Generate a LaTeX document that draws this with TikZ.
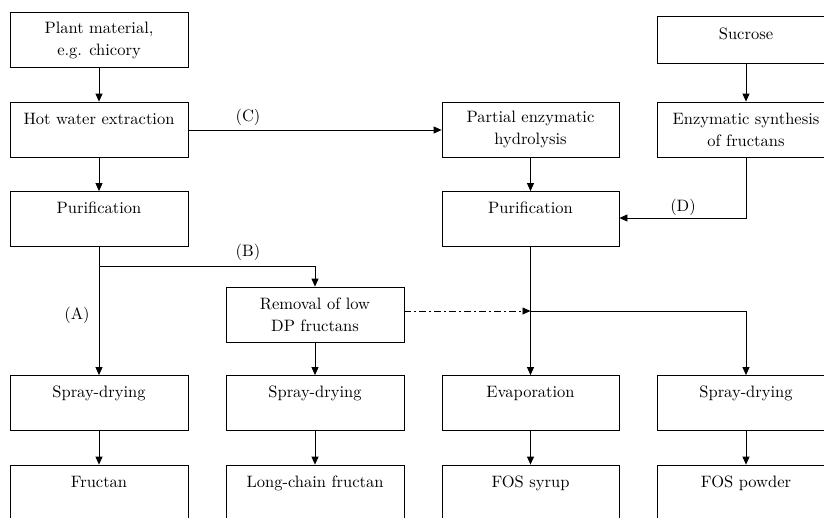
\documentclass[tikz,border=0pt]{standalone}
\usepackage{fontspec}
\newfontfamily\lmten{lmroman10-regular.otf}
\usetikzlibrary{arrows.meta}
\begin{document}
\begin{tikzpicture}[x=1pt,y=-1pt,
  box/.style={draw, line width=0.8pt, minimum width=178pt, minimum height=55pt, inner sep=0pt, align=center, font=\lmten\fontsize{16.5}{22}\selectfont},
  arr/.style={line width=0.8pt, -{Triangle[length=8pt,width=7pt]}},
  plain/.style={line width=0.8pt},
  dashdot/.style={line width=0.8pt, dash pattern=on 7pt off 3pt on 2pt off 3pt, -{Triangle[length=8pt,width=7pt]}},
  lab/.style={font=\lmten\fontsize{16.5}{22}\selectfont, inner sep=0pt}]
\useasboundingbox (0,0) rectangle (824,517);
\clip (0,0) rectangle (824,517);
% column 1
\node[box] (plant) at (99,40) {Plant material,\\e.g. chicory};
\node[box] (hot) at (99,129.5) {Hot water extraction\\~};
\node[box] (pur1) at (99,219) {Purification\\~};
\node[box] (spray1) at (99,403) {Spray-drying\\~};
\node[box] (fructan) at (99,492.5) {Fructan\\~};
% column 2
\node[box] (removal) at (315,314.5) {Removal of low\\DP fructans};
\node[box] (spray2) at (315,403) {Spray-drying\\~};
\node[box] (longchain) at (315,492.5) {Long-chain fructan\\~};
% column 3
\node[box, minimum width=177pt] (partial) at (530.5,129.5) {Partial enzymatic\\hydrolysis};
\node[box, minimum width=177pt] (pur2) at (530.5,219) {Purification\\~};
\node[box, minimum width=177pt] (evap) at (530.5,403) {Evaporation\\~};
\node[box, minimum width=177pt] (syrup) at (530.5,492.5) {FOS syrup\\~};
% column 4
\node[box, minimum height=47pt, text depth=11pt] (sucrose) at (746,39.5) {Sucrose};
\node[box] (enzym) at (746,129.5) {Enzymatic synthesis\\of fructans};
\node[box] (spray4) at (746,403) {Spray-drying\\~};
\node[box] (powder) at (746,492.5) {FOS powder\\~};
% junctions
\coordinate (jB) at (99,266);
\coordinate (jE) at (530.5,311);
% connectors
\draw[arr] (plant) -- (hot);
\draw[arr] (hot) -- (pur1);
\draw[arr] (hot.east |- 0,130) -- (partial.west |- 0,130);
\draw[plain] (pur1.south) -- (jB);
\draw[arr] (jB) -- (spray1.north);
\draw[arr] (jB) -| (removal.north);
\draw[arr] (removal) -- (spray2);
\draw[arr] (spray1) -- (fructan);
\draw[arr] (spray2) -- (longchain);
\draw[arr] (partial) -- (pur2);
\draw[arr] (sucrose) -- (enzym);
\draw[arr] (enzym.south) |- (pur2.east |- 0,218);
\draw[arr] (pur2.south) -- (evap.north);
\draw[arr] (jE) -| (spray4.north);
\draw[dashdot] (removal.east |- jE) -- (jE);
\draw[arr] (evap) -- (syrup);
\draw[arr] (spray4) -- (powder);
% labels
\node[lab] (lC) at (248,117) {(C)};
\node[lab] (lB) at (248,252) {(B)};
\node[lab] (lA) at (77,315) {(A)};
\node[lab] (lD) at (683,207) {(D)};
\end{tikzpicture}
\end{document}
